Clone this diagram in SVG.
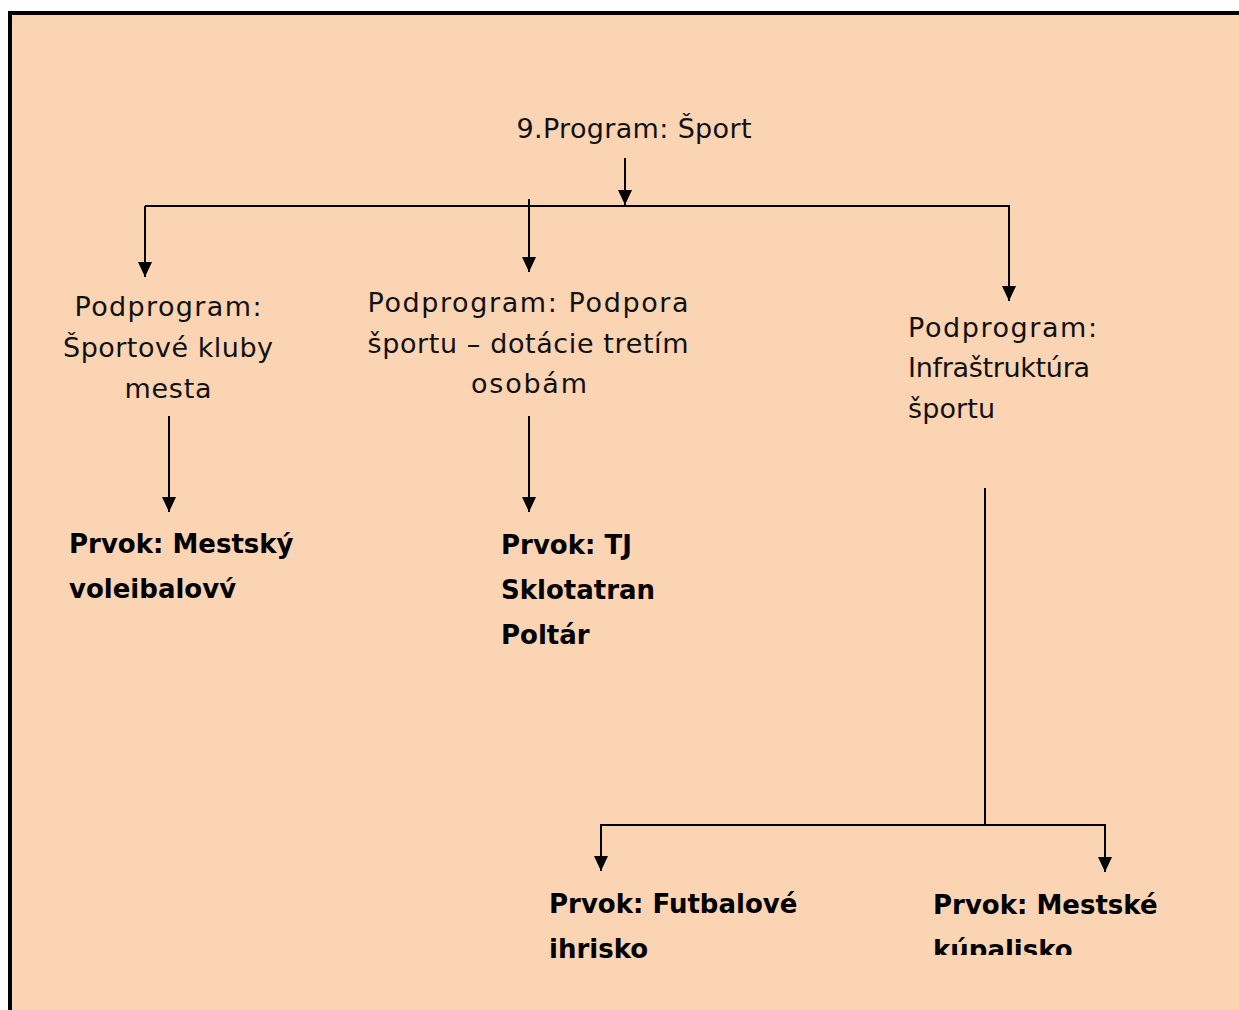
<svg xmlns="http://www.w3.org/2000/svg" width="1239" height="1010" viewBox="0 0 1239 1010">
  <defs>
    <marker id="arrow" viewBox="0 0 15 14" refX="15" refY="7" markerWidth="15" markerHeight="14" markerUnits="userSpaceOnUse" orient="auto">
      <path d="M0,0 L15,7 L0,14 Z" fill="#000"/>
    </marker>
    <clipPath id="cutBottom">
      <rect x="0" y="0" width="1239" height="955"/>
    </clipPath>
    <clipPath id="cutVolejbal">
      <rect x="0" y="0" width="1239" height="598"/>
    </clipPath>
    <style>
      .lbl { font-family: "DejaVu Sans", "Liberation Sans", sans-serif; font-size: 27px; fill: #111; }
      .bold { font-family: "DejaVu Sans", "Liberation Sans", sans-serif; font-size: 26px; font-weight: bold; fill: #000; }
      .mid { text-anchor: middle; }
      .wire { fill: none; stroke: #000; stroke-width: 2; }
      .arr { fill: none; stroke: #000; stroke-width: 2; marker-end: url(#arrow); }
    </style>
  </defs>

  <!-- page background and frame -->
  <rect x="0" y="0" width="1239" height="1010" fill="#fff"/>
  <rect x="10" y="13" width="1229" height="997" fill="#FBD4B4"/>
  <path d="M10,1010 V13 H1239" fill="none" stroke="#000" stroke-width="4"/>

  <!-- connectors -->
  <g id="connectors">
    <line class="arr" x1="625" y1="158" x2="625" y2="205"/>
    <line class="wire" x1="145" y1="206" x2="1010" y2="206"/>
    <line class="arr" x1="145" y1="206" x2="145" y2="277"/>
    <line class="arr" x1="529" y1="199" x2="529" y2="272"/>
    <line class="arr" x1="1009" y1="206" x2="1009" y2="301"/>
    <line class="arr" x1="169" y1="416" x2="169" y2="512"/>
    <line class="arr" x1="529" y1="416" x2="529" y2="512"/>
    <line class="wire" x1="985" y1="488" x2="985" y2="825"/>
    <line class="wire" x1="600" y1="825" x2="1106" y2="825"/>
    <line class="arr" x1="601" y1="825" x2="601" y2="871"/>
    <line class="arr" x1="1105" y1="825" x2="1105" y2="872"/>
  </g>

  <!-- nodes -->
  <g id="program">
    <text class="lbl mid" x="634" y="138" textLength="235">9.Program: Šport</text>
  </g>
  <g id="sub-kluby">
    <text class="lbl mid" x="168" y="316" textLength="187">Podprogram:</text>
    <text class="lbl mid" x="168" y="357" textLength="210">Športové kluby</text>
    <text class="lbl mid" x="168" y="398" textLength="87">mesta</text>
  </g>
  <g id="sub-podpora">
    <text class="lbl mid" x="528" y="312" textLength="321">Podprogram: Podpora</text>
    <text class="lbl mid" x="528" y="353" textLength="321">športu – dotácie tretím</text>
    <text class="lbl mid" x="529" y="393" textLength="116">osobám</text>
  </g>
  <g id="sub-infra">
    <text class="lbl" x="908" y="337" textLength="189">Podprogram:</text>
    <text class="lbl" x="908" y="377" textLength="182">Infraštruktúra</text>
    <text class="lbl" x="908" y="418" textLength="87">športu</text>
  </g>
  <g id="prvok-volejbal" clip-path="url(#cutVolejbal)">
    <text class="bold" x="69" y="553">Prvok: Mestský</text>
    <text class="bold" x="69" y="598">voleibalový</text>
  </g>
  <g id="prvok-tj">
    <text class="bold" x="501" y="554">Prvok: TJ</text>
    <text class="bold" x="501" y="599">Sklotatran</text>
    <text class="bold" x="501" y="644">Poltár</text>
  </g>
  <g id="prvok-futbal">
    <text class="bold" x="549" y="913">Prvok: Futbalové</text>
    <text class="bold" x="549" y="958">ihrisko</text>
  </g>
  <g id="prvok-kupalisko" clip-path="url(#cutBottom)">
    <text class="bold" x="933" y="914">Prvok: Mestské</text>
    <text class="bold" x="933" y="959">kúpalisko</text>
  </g>
</svg>
